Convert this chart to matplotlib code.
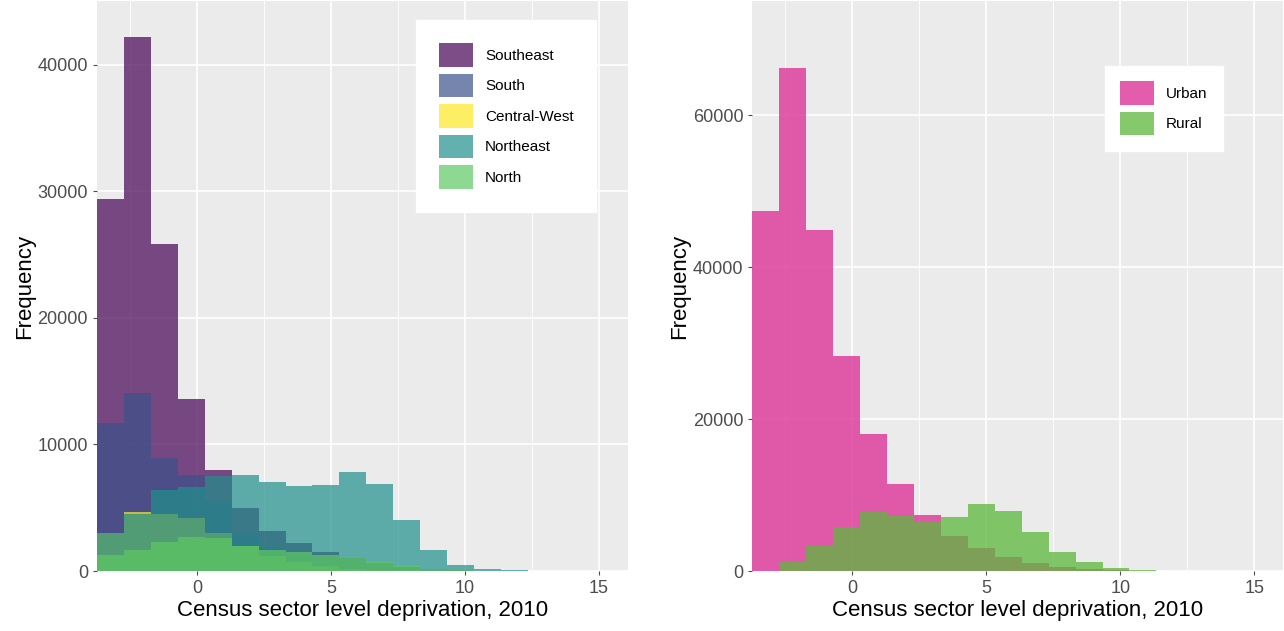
import matplotlib.pyplot as plt
import numpy as np

plt.rcParams['font.family'] = ['Liberation Sans', 'DejaVu Sans']

# bin edges (common to both panels)
x0 = -3.73
bw = 1.005
nb = 16

southeast = [29400, 42200, 25800, 13600, 8000, 5000, 3200, 2200, 1500, 1000, 600, 300, 150, 80, 40, 20]
south = [11700, 14100, 8900, 7600, 5500, 3000, 1800, 1000, 600, 300, 150, 80, 40, 20, 10, 5]
central_west = [3000, 4700, 4500, 4200, 3000, 2000, 1200, 700, 400, 200, 100, 50, 20, 10, 5, 2]
northeast = [3000, 4500, 6400, 6600, 7500, 7600, 7000, 6700, 6800, 7800, 6900, 4000, 1700, 500, 200, 80]
north = [1300, 1700, 2300, 2700, 2600, 2000, 1700, 1500, 1300, 1000, 700, 400, 150, 60, 20, 10]

urban = [47400, 66200, 44900, 28300, 18000, 11500, 7400, 4600, 3000, 1800, 1000, 500, 250, 100, 50, 20]
rural = [0, 1200, 3300, 5800, 7800, 7300, 6500, 7100, 8800, 7900, 5100, 2500, 1200, 400, 200, 60]

left = x0 + bw * np.arange(nb)

fig, (a1, a2) = plt.subplots(1, 2, figsize=(12.84, 6.31), dpi=100)

def style(ax, ymax, yticks):
    ax.set_facecolor('#ebebeb')
    ax.set_axisbelow(True)
    ax.grid(True, color='white', linewidth=1.2)
    ax.set_xticks([0, 5, 10, 15], minor=False)
    ax.set_xticks([-2.5, 2.5, 7.5, 12.5], minor=True)
    ax.set_yticks(yticks)
    ax.grid(True, which='minor', color='white', linewidth=0.6)
    ax.set_xlim(x0, 16.08)
    ax.set_ylim(0, ymax)
    for s in ax.spines.values():
        s.set_visible(False)
    ax.tick_params(labelsize=13, colors='#4d4d4d', length=3)
    ax.tick_params(which='minor', length=0)
    ax.set_xlabel('Census sector level deprivation, 2010', fontsize=16, labelpad=2)
    ax.set_ylabel('Frequency', fontsize=16, labelpad=2)

series = [('Southeast', southeast, '#440154'), ('South', south, '#3b528b'),
          ('Central-West', central_west, '#fde725'), ('Northeast', northeast, '#21918c'),
          ('North', north, '#5ec962')]
for name, vals, c in series:
    a1.bar(left, vals, width=bw, align='edge', color=c, alpha=0.7, label=name, linewidth=0)
style(a1, 45000, [0, 10000, 20000, 30000, 40000])
a1.legend(loc='upper right', bbox_to_anchor=(0.955, 0.98), fontsize=11, frameon=True,
          fancybox=False, edgecolor='white', facecolor='white', framealpha=1,
          handlelength=2.2, handleheight=2.0, borderpad=1.5, labelspacing=0.45)

a2.bar(left, urban, width=bw, align='edge', color='#dd3497', alpha=0.8, label='Urban', linewidth=0)
a2.bar(left, rural, width=bw, align='edge', color='#5db83c', alpha=0.75, label='Rural', linewidth=0)
style(a2, 75000, [0, 20000, 40000, 60000])
a2.legend(loc='upper right', bbox_to_anchor=(0.9, 0.9), fontsize=11, frameon=True,
          fancybox=False, edgecolor='white', facecolor='white', framealpha=1,
          handlelength=2.2, handleheight=2.0, borderpad=1.0, labelspacing=0.45)

plt.subplots_adjust(left=0.0755, right=0.9995, bottom=0.095, top=0.998, wspace=0.234)
plt.savefig('out.png')
